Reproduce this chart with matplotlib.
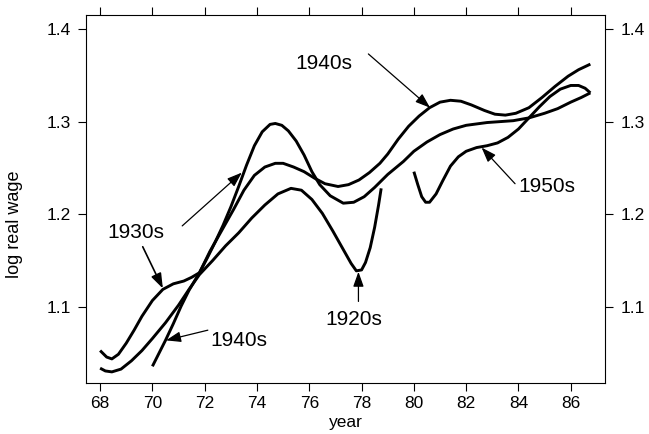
import numpy as np
import matplotlib
matplotlib.use('Agg')
from matplotlib import pyplot as plt

plt.rcParams['font.family'] = ['Liberation Sans', 'DejaVu Sans']

# cohort wage profiles (log real wage by calendar year)
year_1920s = [68.0, 68.2, 68.45, 68.8, 69.2, 69.6, 70.0, 70.5, 71.0, 71.4, 71.8,
              72.3, 72.8, 73.3, 73.8, 74.3, 74.8, 75.3, 75.7, 76.1, 76.5, 76.9,
              77.3, 77.6, 77.8, 78.0, 78.15, 78.33, 78.5, 78.65, 78.75]
wage_1920s = [1.034, 1.031, 1.030, 1.033, 1.042, 1.053, 1.066, 1.083, 1.102, 1.119, 1.135,
              1.150, 1.166, 1.180, 1.196, 1.210, 1.222, 1.228, 1.226, 1.216, 1.201, 1.182,
              1.162, 1.147, 1.139, 1.140, 1.148, 1.164, 1.186, 1.210, 1.228]

year_1930s = [68.0, 68.25, 68.45, 68.7, 69.0, 69.3, 69.6, 70.0, 70.4, 70.8, 71.2, 71.5,
              71.8, 72.1, 72.4, 72.7, 73.0, 73.3, 73.6, 73.9, 74.2, 74.5, 74.7, 74.95,
              75.2, 75.5, 75.8, 76.1, 76.4, 76.8, 77.3, 77.7, 78.1, 78.5, 79.0, 79.6,
              80.0, 80.5, 81.0, 81.5, 82.0, 82.8, 83.8, 84.4, 85.0, 85.5, 86.0, 86.4, 86.75]
wage_1930s = [1.053, 1.046, 1.044, 1.049, 1.061, 1.075, 1.090, 1.107, 1.119, 1.125, 1.128, 1.132,
              1.137, 1.153, 1.170, 1.188, 1.208, 1.230, 1.253, 1.274, 1.289, 1.297, 1.298, 1.296,
              1.290, 1.279, 1.264, 1.246, 1.232, 1.220, 1.212, 1.213, 1.219, 1.229, 1.243, 1.257,
              1.268, 1.278, 1.286, 1.292, 1.296, 1.299, 1.301, 1.304, 1.309, 1.314, 1.321, 1.326, 1.331]

year_1940s = [70.0, 70.25, 70.5, 70.8, 71.1, 71.4, 71.8, 72.2, 72.6, 73.1, 73.5, 73.9,
              74.3, 74.7, 75.0, 75.4, 75.8, 76.2, 76.6, 77.1, 77.5, 77.9, 78.3, 78.7,
              79.0, 79.4, 79.8, 80.2, 80.6, 81.0, 81.4, 81.8, 82.2, 82.7, 83.1, 83.5,
              83.9, 84.4, 84.9, 85.4, 85.9, 86.3, 86.75]
wage_1940s = [1.036, 1.050, 1.064, 1.082, 1.101, 1.118, 1.137, 1.160, 1.180, 1.205, 1.226, 1.242,
              1.251, 1.255, 1.255, 1.251, 1.246, 1.239, 1.233, 1.230, 1.232, 1.237, 1.245, 1.255,
              1.265, 1.281, 1.295, 1.306, 1.315, 1.321, 1.323, 1.322, 1.318, 1.312, 1.308, 1.307,
              1.309, 1.315, 1.326, 1.338, 1.349, 1.356, 1.362]

year_1950s = [80.0, 80.15, 80.3, 80.45, 80.6, 80.85, 81.1, 81.4, 81.7, 82.0, 82.4, 82.8,
              83.2, 83.6, 84.0, 84.4, 84.8, 85.2, 85.6, 86.0, 86.3, 86.55, 86.75]
wage_1950s = [1.246, 1.232, 1.219, 1.213, 1.213, 1.222, 1.236, 1.252, 1.262, 1.268, 1.272, 1.274,
              1.277, 1.283, 1.292, 1.304, 1.316, 1.327, 1.335, 1.339, 1.339, 1.336, 1.331]

x_ticks = [68, 70, 72, 74, 76, 78, 80, 82, 84, 86]
y_ticks = [1.1, 1.2, 1.3, 1.4]


def arrow(ax, tip, tail, lw=0.9):
    ax.annotate('', xy=tip, xytext=tail,
                arrowprops=dict(arrowstyle='-|>,head_length=0.9,head_width=0.32',
                                mutation_scale=10, color='black', lw=lw,
                                shrinkA=0, shrinkB=0))


fig = plt.figure(figsize=(6.49, 4.34), dpi=100)
ax = fig.add_axes([0.1325, 0.1175, 0.7997, 0.8479])

for xs, ys in [(year_1920s, wage_1920s), (year_1930s, wage_1930s),
               (year_1940s, wage_1940s), (year_1950s, wage_1950s)]:
    ax.plot(xs, ys, color='black', lw=2.1, solid_capstyle='butt',
            solid_joinstyle='round')

ax.set_xlim(67.46, 87.31)
ax.set_ylim(1.018, 1.415)
ax.set_xticks(x_ticks)
ax.set_yticks(y_ticks)
ax.set_yticklabels([f'{v:.1f}' for v in y_ticks])
ax.tick_params(axis='both', which='both', direction='out', length=6, width=0.8,
               labelsize=12.5, top=True, right=True, labelright=True)
ax.tick_params(axis='x', pad=3)
ax.tick_params(axis='y', pad=5)
for s in ax.spines.values():
    s.set_linewidth(0.8)

ax.set_xlabel('year', fontsize=12.5, labelpad=3)
ax.set_ylabel('log real wage', fontsize=13)
ax.yaxis.set_label_coords(-0.121, 0.432)

# cohort labels with pointers
ax.text(76.54, 1.363, '1940s', fontsize=15, ha='center', va='center')
arrow(ax, (80.62, 1.315), (78.26, 1.373))

ax.text(69.38, 1.180, '1930s', fontsize=15, ha='center', va='center')
arrow(ax, (70.4, 1.120), (69.63, 1.165), lw=1.2)
arrow(ax, (73.42, 1.245), (71.14, 1.1875))

ax.text(73.3, 1.064, '1940s', fontsize=15, ha='center', va='center')
arrow(ax, (70.52, 1.064), (72.12, 1.075))

ax.text(77.69, 1.087, '1920s', fontsize=15, ha='center', va='center')
arrow(ax, (77.88, 1.138), (77.88, 1.106))

ax.text(85.08, 1.230, '1950s', fontsize=15, ha='center', va='center')
arrow(ax, (82.59, 1.272), (83.87, 1.233))

plt.savefig('out.png', dpi=100)
